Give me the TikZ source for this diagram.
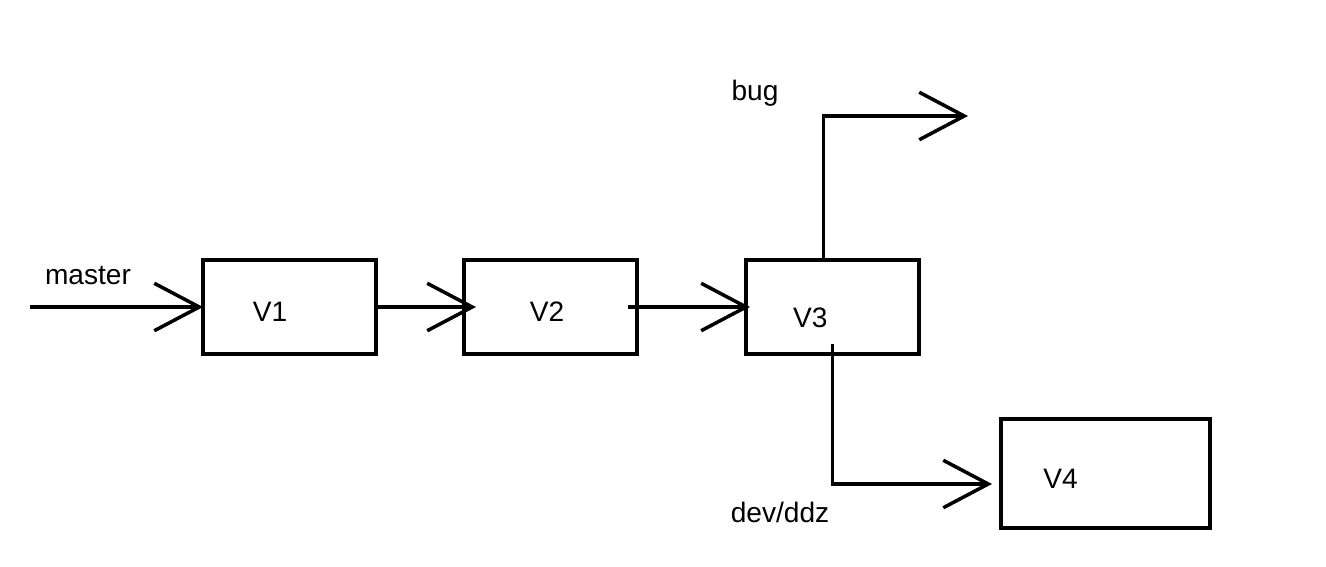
\documentclass[tikz,border=0pt]{standalone}
\usepackage{fontspec}
\setmainfont{Liberation Sans}
\usepackage{tikz}
\usetikzlibrary{arrows.meta,positioning}
\tikzset{box/.style={draw, line width=2pt, minimum width=3.46cm, minimum height=1.88cm, inner sep=0pt, outer sep=0pt},
	barb/.style={-{Straight Barb[length=0.9cm,width=0.95cm]}, line width=2pt}}

\begin{document}
\begin{tikzpicture}[x=0.02cm, y=-0.02cm, font=\fontsize{16}{19}\selectfont]
		\useasboundingbox (0,0) rectangle (1326,566);
		\node(V1)[box, label={[shift={(-19.5,5)}]center:V1}] at (289.5,307){};
		\node(V2)[box, right=1.76cm of V1, label={[shift={(-3.5,5)}]center:V2}]{};
		\node(V3)[box, right=2.18cm of V2, label={[shift={(-22,11)}]center:V3}]{};
		\node(V4)[box, minimum width=4.18cm, minimum height=2.18cm, label={[shift={(-45,5)}]center:V4}] at (1105.5,473.5){};
		\coordinate(start) at (30,307);
		\coordinate(bugend) at (968,116);
		\node(master) at (88,276){master};
		\node(bug) at (755,93){bug};
		\node(dev) at (780,512){dev/ddz};
		\draw[barb](start) -- (V1.west);
		\draw[barb, shorten >=-0.24cm](V1.east) -- (V1.east -| V2.west);
		\draw[barb, shorten <=-0.18cm, shorten >=-0.08cm](V2.east) -- (V3.west);
		\draw[barb]([xshift=-0.18cm]V3.north) |- (bugend);
		\draw[barb, shorten >=0.18cm]([shift={(0,-10)}]V3.south) |- ([shift={(0,10.5)}]V4.west);
	\end{tikzpicture}
\end{document}
